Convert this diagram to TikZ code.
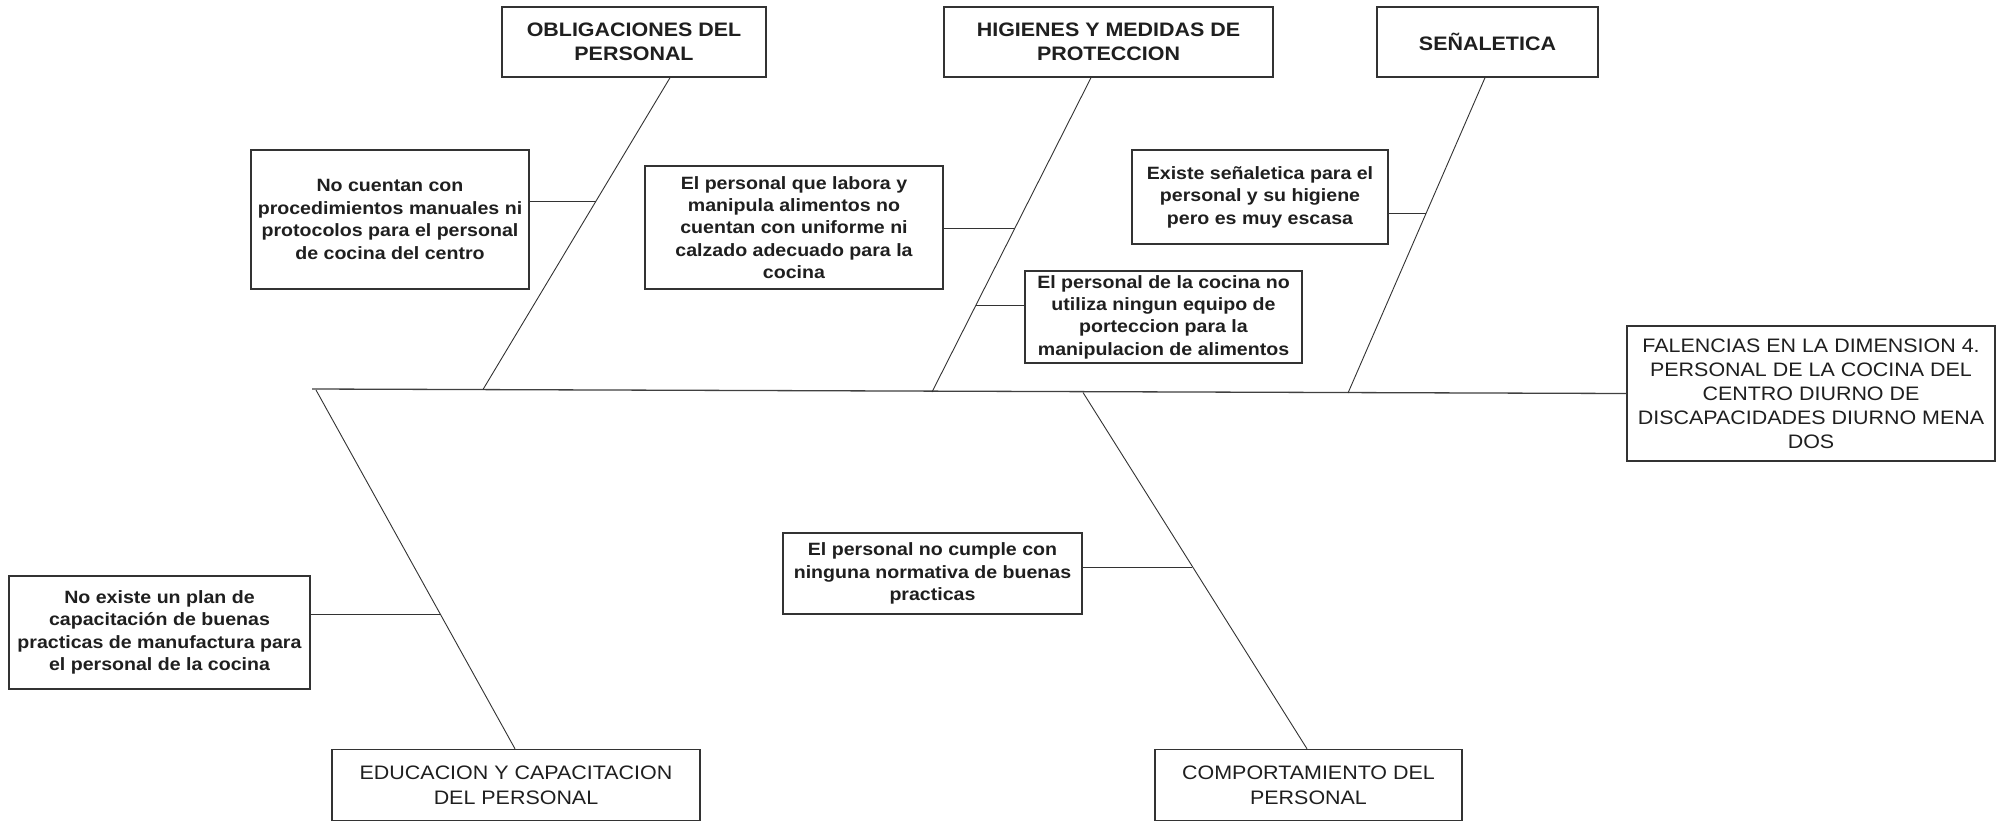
\documentclass[tikz,border=0pt]{standalone}
\usepackage{fontspec}
\setmainfont{Liberation Sans}[FakeStretch=1.1]
\begin{document}
\begin{tikzpicture}[x=1pt,y=-1pt,
  box/.style={draw=black!80, line width=1.4pt, fill=white, inner sep=0pt, align=center, text=black!88},
  cat/.style={box, font=\fontsize{19.5}{23.5}\selectfont\bfseries},
  catr/.style={box, font=\fontsize{19.5}{25}\selectfont},
  cause/.style={box, font=\fontsize{17.8}{22.4}\selectfont\bfseries},
  ln/.style={draw=black!80, line width=0.9pt},
  spine/.style={draw=black!75, line width=1.3pt}]
\fill[white] (0,0) rectangle (1997,822);
\useasboundingbox (0,0) rectangle (1997,822);

% category boxes
\node[cat, minimum width=264pt, minimum height=70pt] (obl) at (634,42) {OBLIGACIONES DEL\\PERSONAL};
\node[cat, minimum width=329pt, minimum height=70pt] (hig) at (1108.5,42) {HIGIENES Y MEDIDAS DE\\PROTECCION};
\node[cat, minimum width=221pt, minimum height=70pt] (sen) at (1487.5,42) {SEÑALETICA};
\node[catr, minimum width=368pt, minimum height=71pt] (edu) at (516,785) {EDUCACION Y CAPACITACION\\DEL PERSONAL};
\node[catr, minimum width=307pt, minimum height=71pt] (com) at (1308.5,785) {COMPORTAMIENTO DEL\\PERSONAL};

% effect box
\node[catr, minimum width=368pt, minimum height=135pt, font=\fontsize{19.5}{24}\selectfont] (fal) at (1811,393.5) {FALENCIAS EN LA DIMENSION 4.\\PERSONAL DE LA COCINA DEL\\CENTRO DIURNO DE\\DISCAPACIDADES DIURNO MENA\\DOS};

% cause boxes
\node[cause, minimum width=278pt, minimum height=139pt] (nc) at (390,219.5) {No cuentan con\\procedimientos manuales ni\\protocolos para el personal\\de cocina del centro};
\node[cause, minimum width=298pt, minimum height=123pt] (pl) at (794,227.5) {El personal que labora y\\manipula alimentos no\\cuentan con uniforme ni\\calzado adecuado para la\\cocina};
\node[cause, minimum width=256pt, minimum height=94pt] (ex) at (1260,197) {Existe señaletica para el\\personal y su higiene\\pero es muy escasa};
\node[cause, minimum width=277pt, minimum height=92pt] (pc) at (1163.5,317) {El personal de la cocina no\\utiliza ningun equipo de\\porteccion para la\\manipulacion de alimentos};
\node[cause, minimum width=299pt, minimum height=81pt] (nm) at (932.5,573.5) {El personal no cumple con\\ninguna normativa de buenas\\practicas};
\node[cause, minimum width=301pt, minimum height=113pt] (np) at (159.5,632.5) {No existe un plan de\\capacitación de buenas\\practicas de manufactura para\\el personal de la cocina};

% spine
\coordinate (sl) at (312,389);
\draw[spine] (sl) -- (fal.west);

% bones
\coordinate (oblS) at (483,389.5);
\coordinate (higS) at (932,392);
\coordinate (senS) at (1348,393);
\coordinate (eduN) at (316,390);
\coordinate (comN) at (1083,392.5);
\draw[ln] ([xshift=36pt]obl.south) -- (oblS);
\draw[ln] ([xshift=-17.5pt]hig.south) -- (higS);
\draw[ln] ([xshift=-2.5pt]sen.south) -- (senS);
\draw[ln] (eduN) -- ([xshift=-1pt]edu.north);
\draw[ln] (comN) -- ([xshift=-1.5pt]com.north);

% branches
\coordinate (b1) at (596,201);
\coordinate (b2) at (1015,228);
\coordinate (b3) at (976,305);
\coordinate (b4) at (1426,213);
\coordinate (b5) at (440,614);
\coordinate (b6) at (1192,567);
\draw[ln] (nc.east |- b1) -- (b1);
\draw[ln] (pl.east |- b2) -- (b2);
\draw[ln] (pc.west |- b3) -- (b3);
\draw[ln] (ex.east |- b4) -- (b4);
\draw[ln] (np.east |- b5) -- (b5);
\draw[ln] (nm.east |- b6) -- (b6);
\end{tikzpicture}
\end{document}
